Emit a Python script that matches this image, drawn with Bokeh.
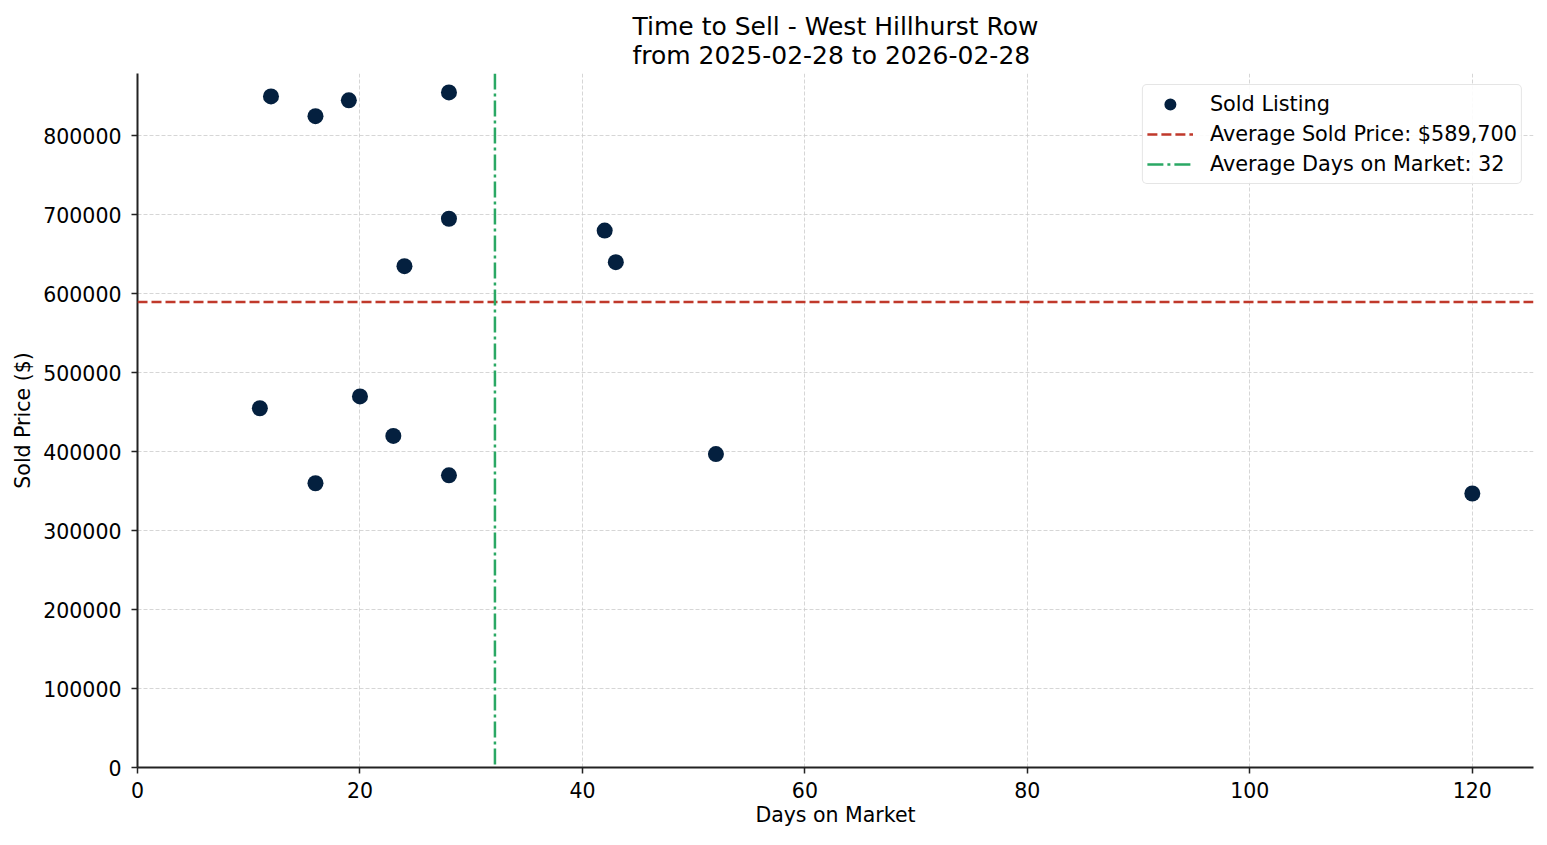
from bokeh.plotting import figure
from bokeh.models import (ColumnDataSource, Span, Legend, LegendItem, FixedTicker,
                          NumeralTickFormatter)
from bokeh.embed import file_html
from bokeh.resources import INLINE

# ---- data ----
days_on_market = [12, 16, 19, 28, 28, 24, 42, 43, 11, 20, 23, 16, 28, 52, 120]
sold_price = [850000, 825000, 845000, 855000, 695000, 635000, 680000, 640000,
              455000, 470000, 420000, 360000, 370000, 397000, 347000]
avg_sold_price = 589700
avg_days = sum(days_on_market) / len(days_on_market)
x_ticks = [0, 20, 40, 60, 80, 100, 120]
y_ticks = [0, 100000, 200000, 300000, 400000, 500000, 600000, 700000, 800000]
title_text = "Time to Sell - West Hillhurst Row\nfrom 2025-02-28 to 2026-02-28"

FONT = "DejaVu Sans"
FS = "20.5px"
RED = "#c0392b"
GREEN = "#2aa864"
NAVY = "#04203f"

p = figure(width=1539, height=829, output_backend="svg", toolbar_location=None,
           x_range=(0, 125.5), y_range=(0, 879000),
           min_border_left=137, min_border_right=6, min_border_top=73,
           min_border_bottom=62, background_fill_color="white",
           border_fill_color="white", outline_line_color=None)

p.title.text = title_text
p.title.align = "center"
p.title.text_font = FONT
p.title.text_font_size = "25px"
p.title.text_font_style = "normal"
p.title.text_color = "#000000"
p.title.standoff = 8

src = ColumnDataSource(dict(x=days_on_market, y=sold_price))
sc = p.scatter("x", "y", source=src, size=16, fill_color=NAVY,
               line_color=NAVY, line_width=0)

hline = Span(location=avg_sold_price, dimension="width", line_color=RED,
             line_width=2.5, line_dash="10 4")
vline = Span(location=avg_days, dimension="height", line_color=GREEN,
             line_width=2.5, line_dash="16 4 3 4")
p.add_layout(hline)
p.add_layout(vline)

# off-range proxy renderers so the legend shows the line styles
r_red = p.line([-10, -5], [-1e6, -1e6], line_color=RED, line_width=2.5,
               line_dash="10 4")
r_green = p.line([-10, -5], [-1e6, -1e6], line_color=GREEN, line_width=2.5,
                 line_dash="16 4 3 4")

legend = Legend(items=[
    LegendItem(label="Sold Listing", renderers=[sc]),
    LegendItem(label=f"Average Sold Price: ${avg_sold_price:,.0f}", renderers=[r_red]),
    LegendItem(label=f"Average Days on Market: {round(avg_days)}", renderers=[r_green]),
], location="top_right")
legend.label_text_font = FONT
legend.label_text_font_size = "20.8px"
legend.label_text_color = "#000000"
legend.glyph_width = 46
legend.glyph_height = 30
legend.label_height = 30
legend.label_standoff = 17
legend.spacing = 0
legend.padding = 4
legend.margin = 11
legend.border_line_color = "#cccccc"
legend.border_line_width = 1.5
legend.border_radius = 5
legend.background_fill_alpha = 0.9
p.add_layout(legend)

# axes
p.xaxis.ticker = FixedTicker(ticks=x_ticks)
p.yaxis.ticker = FixedTicker(ticks=y_ticks)
p.yaxis.formatter = NumeralTickFormatter(format="0")
for ax in (p.xaxis[0], p.yaxis[0]):
    ax.axis_line_color = "#222222"
    ax.axis_line_width = 2
    ax.major_tick_line_color = "#222222"
    ax.major_tick_line_width = 1.5
    ax.major_tick_out = 6
    ax.major_tick_in = 0
    ax.minor_tick_line_color = None
    ax.major_label_text_font = FONT
    ax.major_label_text_font_size = FS
    ax.major_label_text_color = "#000000"
    ax.axis_label_text_font = FONT
    ax.axis_label_text_font_size = FS
    ax.axis_label_text_font_style = "normal"
    ax.axis_label_text_color = "#000000"
p.xaxis.axis_label = "Days on Market"
p.yaxis.axis_label = "Sold Price ($)"
p.xaxis.major_label_standoff = 8
p.yaxis.major_label_standoff = 10
p.xaxis.axis_label_standoff = 2
p.yaxis.axis_label_standoff = 5

p.xgrid.ticker = FixedTicker(ticks=x_ticks)
p.ygrid.ticker = FixedTicker(ticks=y_ticks)
for g in (p.xgrid[0], p.ygrid[0]):
    g.grid_line_color = "#cccccc"
    g.grid_line_width = 0.8
    g.grid_line_dash = "4 2"

open("out.html", "w").write(file_html(p, INLINE))
